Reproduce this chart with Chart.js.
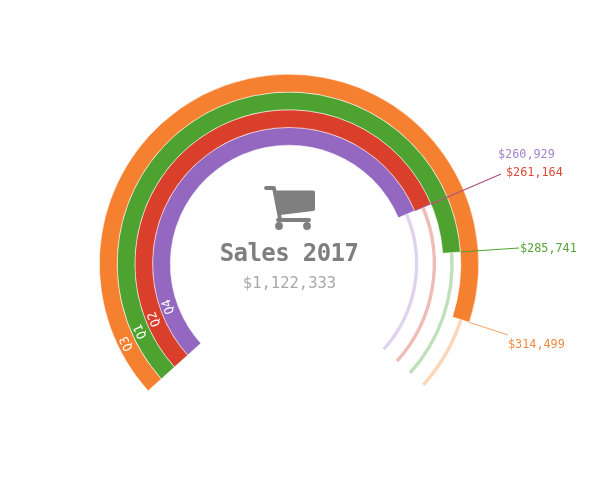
<!DOCTYPE html>
<html>
<head>
<meta charset="utf-8">
<title>Sales 2017</title>
<script src="https://cdn.jsdelivr.net/npm/chart.js@4"></script>
<style>
  html, body { margin: 0; padding: 0; background: #fff; }
  #wrap { position: relative; width: 605px; height: 493px; }
</style>
</head>
<body>
<div id="wrap"><canvas id="salesChart"></canvas></div>
<script>
// outermost ring first
const quarters = ['Q3', 'Q1', 'Q2', 'Q4'];
const sales = [314499, 285741, 261164, 260929];
const salesLabels = ['$314,499', '$285,741', '$261,164', '$260,929'];
const axisMax = 346000;
const title = 'Sales 2017';
const total = '$1,122,333';

const colors = ['#f58030', '#4ea22f', '#d93f2a', '#9467c0'];
const trackColors = ['#fbd6b8', '#bfe0bb', '#efbcb7', '#dfd3ee'];
const labelColors = ['#f08a45', '#55a33a', '#dc4a36', '#a282cc'];
const monoFont = '"DejaVu Sans Mono"';

// where each leader line ends and where its label sits
const leaderEnds = [[508, 335], [519, 248], [501, 174], [501, 174]];
const labelPos = [[508, 345], [520, 249], [506, 173], [498, 155]];

const ringPlugin = {
  id: 'ringPlugin',
  // thin tracks behind the coloured arcs
  beforeDatasetsDraw(chart) {
    const ctx = chart.ctx;
    quarters.forEach((q, i) => {
      const rest = chart.getDatasetMeta(i).data[1];
      const first = chart.getDatasetMeta(i).data[0];
      ctx.save();
      ctx.strokeStyle = trackColors[i];
      ctx.lineWidth = 3.4;
      ctx.beginPath();
      ctx.arc(rest.x, rest.y, (rest.innerRadius + rest.outerRadius) / 2, first.endAngle, rest.endAngle);
      ctx.stroke();
      ctx.restore();
    });
  },
  afterDatasetsDraw(chart) {
    const ctx = chart.ctx;
    quarters.forEach((q, i) => {
      const arc = chart.getDatasetMeta(i).data[0];

      // quarter name, about 50px along the ring from its start
      const mid = (arc.innerRadius + arc.outerRadius) / 2;
      const a = arc.startAngle + 50 / mid;
      ctx.save();
      ctx.translate(arc.x + Math.cos(a) * mid, arc.y + Math.sin(a) * mid);
      ctx.rotate(a + Math.PI / 2);
      ctx.fillStyle = '#fff';
      ctx.font = '12.5px ' + monoFont;
      ctx.textAlign = 'center';
      ctx.textBaseline = 'middle';
      ctx.fillText(q, 0, 0);
      ctx.restore();

      // leader line and value label
      ctx.save();
      ctx.strokeStyle = colors[i];
      ctx.globalAlpha = i === 3 ? 0.7 : (i === 0 ? 0.75 : 1);
      ctx.lineWidth = 1;
      ctx.beginPath();
      ctx.moveTo(arc.x + Math.cos(arc.endAngle) * arc.outerRadius, arc.y + Math.sin(arc.endAngle) * arc.outerRadius);
      ctx.lineTo(leaderEnds[i][0], leaderEnds[i][1]);
      ctx.stroke();
      ctx.globalAlpha = 1;
      ctx.fillStyle = labelColors[i];
      ctx.font = '11.8px ' + monoFont;
      ctx.textBaseline = 'middle';
      ctx.fillText(salesLabels[i], labelPos[i][0], labelPos[i][1]);
      ctx.restore();
    });

    // centre text
    ctx.save();
    ctx.textAlign = 'center';
    ctx.textBaseline = 'middle';
    ctx.fillStyle = '#7f7f7f';
    ctx.font = 'bold 24px ' + monoFont;
    ctx.letterSpacing = '-0.6px';
    ctx.fillText(title, 289, 255);
    ctx.letterSpacing = '0px';
    ctx.fillStyle = '#a8a8a8';
    ctx.font = '15.5px ' + monoFont;
    ctx.fillText(total, 289.5, 284);
    ctx.restore();

    drawCart(ctx);
  }
};

function drawCart(ctx) {
  ctx.save();
  ctx.fillStyle = '#7f7f7f';
  ctx.strokeStyle = '#7f7f7f';
  ctx.lineCap = 'round';
  ctx.lineJoin = 'round';
  // handle and post
  ctx.lineWidth = 3.8;
  ctx.beginPath();
  ctx.moveTo(266, 188);
  ctx.lineTo(274, 188);
  ctx.lineTo(280, 219);
  ctx.stroke();
  ctx.lineWidth = 4;
  ctx.beginPath();
  ctx.moveTo(278, 220);
  ctx.lineTo(309, 220);
  ctx.stroke();
  // basket
  ctx.beginPath();
  ctx.moveTo(276, 190.5);
  ctx.lineTo(313, 190.5);
  ctx.quadraticCurveTo(315, 190.5, 315, 192.5);
  ctx.lineTo(315, 209);
  ctx.quadraticCurveTo(315, 211, 313, 211);
  ctx.lineTo(280, 215);
  ctx.closePath();
  ctx.fill();
  // wheels
  [279, 307].forEach((x) => {
    ctx.beginPath();
    ctx.arc(x, 226, 3.9, 0, Math.PI * 2);
    ctx.fill();
  });
  ctx.restore();
}

new Chart(document.getElementById('salesChart'), {
  type: 'doughnut',
  data: {
    labels: ['Sales', 'Rest'],
    datasets: quarters.map((q, i) => ({
      label: q,
      data: [sales[i], axisMax - sales[i]],
      backgroundColor: [colors[i], 'rgba(0,0,0,0)'],
      borderColor: '#fff',
      borderWidth: [0.5, 0]
    }))
  },
  options: {
    responsive: true,
    maintainAspectRatio: false,
    animation: false,
    rotation: -132,
    circumference: 264,
    cutout: '62.6%',
    layout: { padding: { left: 99, right: 126, top: 74, bottom: 102 } },
    plugins: { legend: { display: false }, tooltip: { enabled: false } }
  },
  plugins: [ringPlugin]
});
</script>
</body>
</html>
